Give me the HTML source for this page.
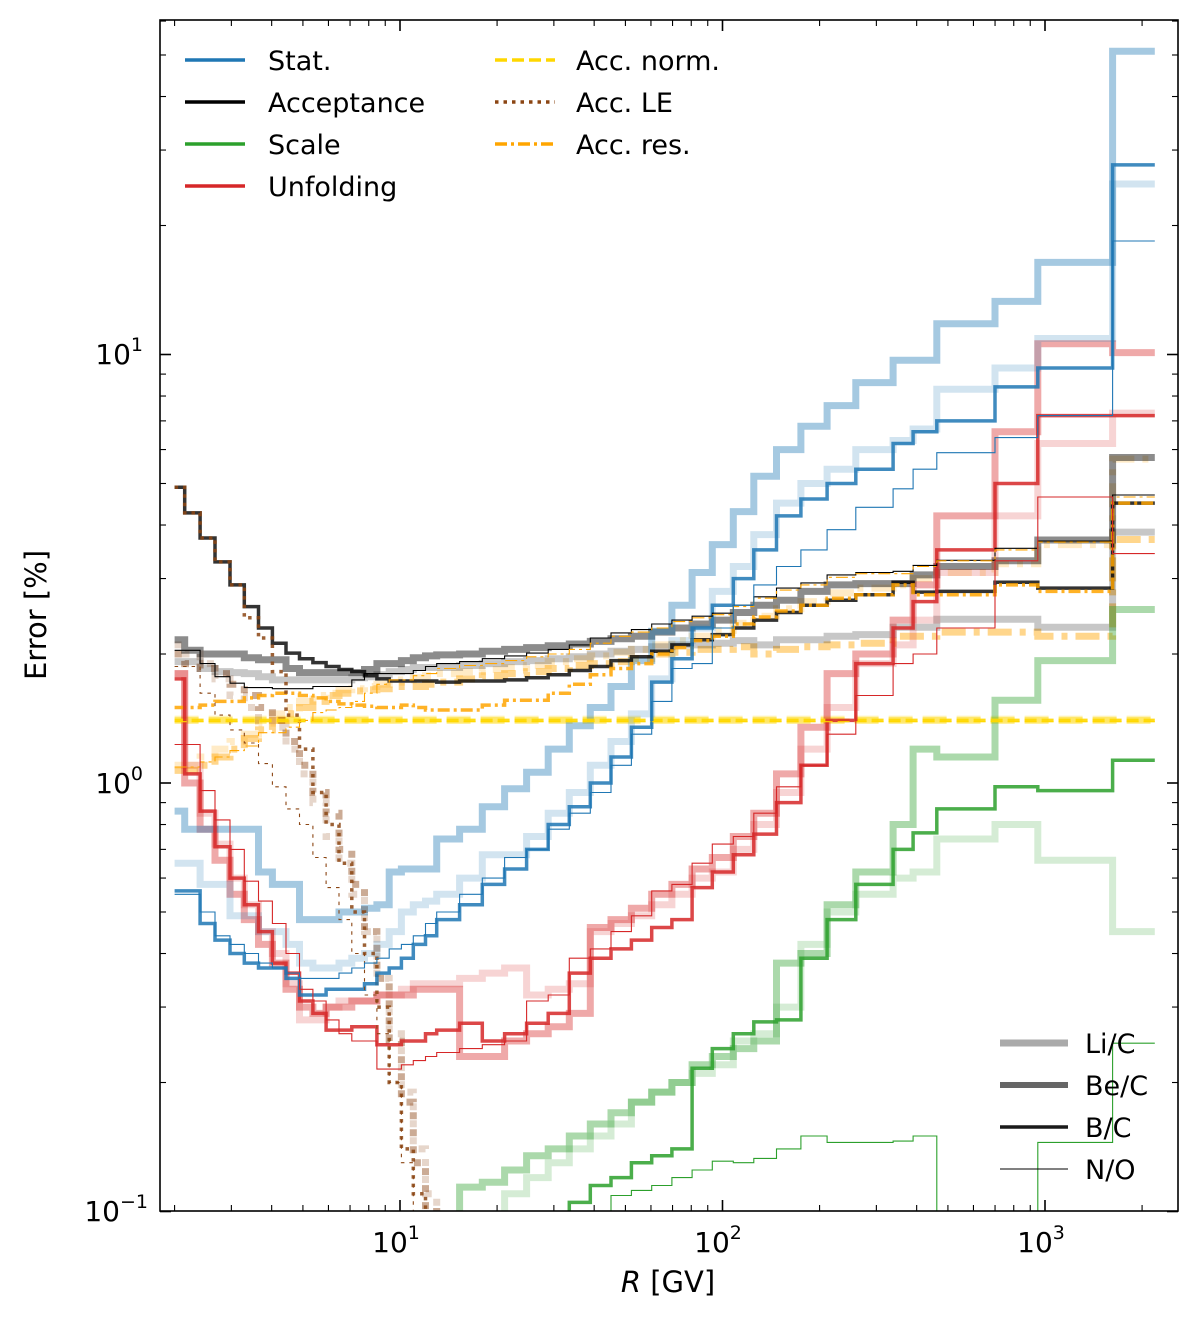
<!DOCTYPE html>
<html>
<head>
<meta charset="utf-8">
<style>
html,body{margin:0;padding:0;background:#fff;}
svg{display:block;font-family:"DejaVu Sans","Liberation Sans",sans-serif;}
</style>
</head>
<body>
<svg id="chart" xmlns="http://www.w3.org/2000/svg" width="1200" height="1324" viewBox="0 0 1200 1324">
  <defs>
    <clipPath id="plotclip"><rect x="160" y="20" width="1018" height="1191"/></clipPath>
  </defs>
  <rect x="0" y="0" width="1200" height="1324" fill="#fff"/>
  <g id="series" clip-path="url(#plotclip)"></g>
  <g id="ticks"></g>
  <rect x="160" y="20" width="1018" height="1191" fill="none" stroke="#000" stroke-width="1.6"/>

  <g font-size="28" text-anchor="middle">
    <text x="396" y="1252">10<tspan dy="-13" font-size="19">1</tspan></text>
    <text x="718" y="1252">10<tspan dy="-13" font-size="19">2</tspan></text>
    <text x="1041" y="1252">10<tspan dy="-13" font-size="19">3</tspan></text>
  </g>
  <g font-size="28" text-anchor="end">
    <text x="143" y="364">10<tspan dy="-13" font-size="19">1</tspan></text>
    <text x="143" y="793">10<tspan dy="-13" font-size="19">0</tspan></text>
    <text x="148" y="1221">10<tspan dy="-13" font-size="19">−1</tspan></text>
  </g>
  <text x="668" y="1292" font-size="29" text-anchor="middle"><tspan font-style="italic">R</tspan> [GV]</text>
  <text x="0" y="0" font-size="29" text-anchor="middle" transform="translate(46,615) rotate(-90)">Error [%]</text>

  <g font-size="27">
    <g><line x1="185" y1="60" x2="245" y2="60" stroke="#1f77b4" stroke-width="3.5"/><text x="268" y="70">Stat.</text></g>
    <g><line x1="185" y1="102" x2="245" y2="102" stroke="#000" stroke-width="3.5"/><text x="268" y="112">Acceptance</text></g>
    <g><line x1="185" y1="144" x2="245" y2="144" stroke="#2ca02c" stroke-width="3.5"/><text x="268" y="154">Scale</text></g>
    <g><line x1="185" y1="186" x2="245" y2="186" stroke="#d62728" stroke-width="3.5"/><text x="268" y="196">Unfolding</text></g>
    <g><line x1="495" y1="60" x2="555" y2="60" stroke="#FFD700" stroke-width="3.5" stroke-dasharray="12,5"/><text x="576" y="70">Acc. norm.</text></g>
    <g><line x1="495" y1="102" x2="555" y2="102" stroke="#8B4513" stroke-width="3.5" stroke-dasharray="3.5,5"/><text x="576" y="112">Acc. LE</text></g>
    <g><line x1="495" y1="144" x2="555" y2="144" stroke="#FFA500" stroke-width="3.5" stroke-dasharray="12,4,3,4"/><text x="576" y="154">Acc. res.</text></g>
  </g>
  <g font-size="27">
    <g><line x1="1000" y1="1043" x2="1068" y2="1043" stroke="#aaa" stroke-width="7"/><text x="1085" y="1053">Li/C</text></g>
    <g><line x1="1000" y1="1085" x2="1068" y2="1085" stroke="#666" stroke-width="6"/><text x="1085" y="1095">Be/C</text></g>
    <g><line x1="1000" y1="1127" x2="1068" y2="1127" stroke="#1a1a1a" stroke-width="3.5"/><text x="1085" y="1137">B/C</text></g>
    <g><line x1="1000" y1="1169" x2="1068" y2="1169" stroke="#000" stroke-width="1.1"/><text x="1085" y="1179">N/O</text></g>
  </g>
</svg>
<script>
// Rigidity bin edges (GV)
const edges = [2.0,2.15,2.4,2.67,2.97,3.29,3.64,4.02,4.43,4.88,5.37,5.9,6.47,7.09,7.76,8.48,9.26,10.1,11.0,12.0,13.0,15.3,18.0,21.1,24.7,28.8,33.5,38.9,45.1,52.2,60.3,69.7,80.5,93,108,125,147,175,211,259,338,390,462,700,950,1620,2190];
const xTickMajors = [10,100,1000];
const yTickMajors = [0.1,1,10];

// Statistical errors (%)
const statLiC = [0.86,0.78,0.78,0.78,0.78,0.78,0.62,0.58,0.58,0.48,0.48,0.48,0.5,0.5,0.51,0.52,0.62,0.63,0.63,0.63,0.74,0.78,0.88,0.97,1.06,1.2,1.36,1.5,1.68,1.93,2.26,2.6,3.1,3.6,4.3,5.2,6.0,6.8,7.6,8.6,9.7,9.7,11.8,13.3,16.4,51];
const statBeC = [0.65,0.65,0.58,0.58,0.49,0.49,0.45,0.45,0.42,0.38,0.37,0.37,0.38,0.39,0.4,0.42,0.45,0.5,0.52,0.53,0.55,0.6,0.68,0.68,0.75,0.85,0.95,1.1,1.25,1.45,1.75,2.15,2.3,2.8,3.2,3.8,4.5,5.0,5.4,6.0,6.3,6.7,8.3,9.3,10.9,25];
const statBC  = [0.56,0.56,0.47,0.43,0.4,0.38,0.37,0.37,0.35,0.32,0.32,0.33,0.33,0.33,0.34,0.36,0.37,0.39,0.42,0.44,0.48,0.52,0.58,0.63,0.7,0.8,0.88,1.0,1.15,1.35,1.72,1.95,2.3,2.6,3.0,3.5,4.2,4.6,5.0,5.4,6.2,6.6,7.0,8.4,9.3,27.7];
const statNO  = [0.55,0.55,0.5,0.44,0.42,0.4,0.38,0.37,0.36,0.35,0.35,0.35,0.36,0.37,0.38,0.39,0.41,0.42,0.44,0.47,0.5,0.55,0.6,0.67,0.7,0.78,0.85,0.95,1.1,1.3,1.55,1.85,1.9,2.3,2.6,2.9,3.2,3.5,3.9,4.4,4.86,5.4,5.9,6.4,7.2,18.4];

// Unfolding errors (%)
const unfLiC = [1.8,1.0,0.78,0.66,0.55,0.48,0.42,0.38,0.33,0.3,0.29,0.3,0.3,0.31,0.31,0.32,0.32,0.32,0.33,0.33,0.33,0.23,0.23,0.25,0.26,0.27,0.29,0.46,0.48,0.51,0.55,0.58,0.63,0.67,0.75,0.85,1.05,1.35,1.8,2.0,2.4,2.9,4.2,6.6,10.6,10.1];
const unfBeC = [1.8,1.1,0.85,0.72,0.6,0.52,0.45,0.4,0.34,0.28,0.28,0.3,0.31,0.31,0.31,0.32,0.32,0.33,0.34,0.34,0.34,0.35,0.36,0.37,0.32,0.33,0.34,0.45,0.47,0.49,0.52,0.55,0.6,0.62,0.7,0.8,0.95,1.2,1.5,1.9,2.1,2.4,3.1,4.2,6.2,7.3];
const unfBC  = [1.75,1.05,0.86,0.71,0.6,0.52,0.45,0.38,0.36,0.31,0.29,0.265,0.265,0.27,0.27,0.245,0.245,0.25,0.25,0.26,0.265,0.275,0.25,0.26,0.275,0.29,0.36,0.39,0.41,0.43,0.46,0.48,0.57,0.62,0.68,0.76,0.9,1.1,1.4,1.9,2.3,2.65,3.5,5.0,7.2,7.2];
const unfNO  = [1.23,1.23,0.96,0.82,0.7,0.59,0.53,0.47,0.4,0.33,0.31,0.28,0.26,0.25,0.25,0.215,0.215,0.22,0.225,0.23,0.235,0.24,0.245,0.25,0.31,0.32,0.39,0.41,0.45,0.49,0.56,0.58,0.65,0.72,0.75,0.85,0.98,1.1,1.3,1.6,1.9,2.0,2.3,3.3,4.65,3.43];

// Scale errors (%)
const scaleLiC = [0.05,0.05,0.05,0.05,0.05,0.05,0.05,0.05,0.05,0.05,0.05,0.05,0.05,0.05,0.05,0.05,0.05,0.05,0.05,0.05,0.05,0.114,0.117,0.125,0.135,0.14,0.15,0.16,0.17,0.18,0.19,0.2,0.22,0.23,0.24,0.25,0.38,0.4,0.52,0.62,0.8,1.2,1.15,1.56,1.93,2.54];
const scaleBeC = [0.05,0.05,0.05,0.05,0.05,0.05,0.05,0.05,0.05,0.05,0.05,0.05,0.05,0.05,0.05,0.05,0.05,0.05,0.05,0.05,0.05,0.05,0.05,0.11,0.12,0.13,0.14,0.15,0.16,0.18,0.19,0.2,0.21,0.22,0.25,0.26,0.3,0.42,0.5,0.55,0.6,0.62,0.74,0.8,0.66,0.45];
const scaleBC  = [0.05,0.05,0.05,0.05,0.05,0.05,0.05,0.05,0.05,0.05,0.05,0.05,0.05,0.05,0.05,0.05,0.05,0.05,0.05,0.05,0.05,0.05,0.05,0.05,0.05,0.05,0.105,0.115,0.12,0.13,0.135,0.14,0.216,0.24,0.26,0.277,0.28,0.39,0.48,0.58,0.7,0.765,0.87,0.98,0.96,1.13];
const scaleNO  = [0.05,0.05,0.05,0.05,0.05,0.05,0.05,0.05,0.05,0.05,0.05,0.05,0.05,0.05,0.05,0.05,0.05,0.05,0.05,0.05,0.05,0.05,0.05,0.05,0.05,0.05,0.05,0.05,0.109,0.112,0.115,0.12,0.125,0.131,0.13,0.133,0.14,0.15,0.145,0.145,0.146,0.15,0.05,0.05,0.145,0.247];

// Acceptance errors (%)
const accLiC = [1.92,1.92,1.85,1.82,1.81,1.8,1.77,1.74,1.74,1.74,1.74,1.74,1.74,1.76,1.77,1.79,1.82,1.84,1.86,1.86,1.86,1.88,1.9,1.92,1.93,1.95,1.97,2.0,2.03,2.05,2.08,2.1,2.1,2.12,2.15,2.1,2.16,2.16,2.2,2.22,2.31,2.31,2.41,2.41,2.31,3.85];
const accBeC = [2.16,2.04,2.0,2.0,2.0,1.96,1.94,1.94,1.85,1.81,1.81,1.81,1.81,1.81,1.84,1.9,1.9,1.93,1.96,1.98,1.99,2.0,2.03,2.05,2.07,2.09,2.11,2.14,2.17,2.2,2.25,2.3,2.35,2.4,2.5,2.6,2.67,2.8,2.9,2.92,2.92,3.06,3.2,3.3,3.69,5.75];
const accBC  = [4.9,4.27,3.73,3.28,2.9,2.58,2.3,2.12,2.01,1.95,1.91,1.87,1.84,1.82,1.78,1.75,1.73,1.73,1.73,1.73,1.72,1.73,1.73,1.74,1.76,1.79,1.83,1.87,1.93,1.97,2.03,2.1,2.16,2.22,2.3,2.4,2.5,2.6,2.67,2.75,2.94,2.79,2.8,2.94,2.85,4.5];
const accNO  = [2.04,2.04,1.9,1.77,1.71,1.67,1.67,1.66,1.66,1.66,1.68,1.68,1.68,1.74,1.8,1.8,1.8,1.8,1.83,1.87,1.9,1.92,1.95,1.98,2.01,2.05,2.1,2.18,2.24,2.28,2.35,2.4,2.45,2.49,2.6,2.72,2.85,2.93,3.06,3.1,3.12,3.22,3.31,3.53,3.67,4.7];

// Acceptance normalisation errors (%)
const normLiC = [1.4,1.4,1.4,1.4,1.4,1.4,1.4,1.4,1.4,1.4,1.4,1.4,1.4,1.4,1.4,1.4,1.4,1.4,1.4,1.4,1.4,1.4,1.4,1.4,1.4,1.4,1.4,1.4,1.4,1.4,1.4,1.4,1.4,1.4,1.4,1.4,1.4,1.4,1.4,1.4,1.4,1.4,1.4,1.4,1.4,1.4];
const normBeC = [1.41,1.41,1.41,1.41,1.41,1.41,1.41,1.41,1.41,1.41,1.41,1.41,1.41,1.41,1.41,1.41,1.41,1.41,1.41,1.41,1.41,1.41,1.41,1.41,1.41,1.41,1.41,1.41,1.41,1.41,1.41,1.41,1.41,1.41,1.41,1.41,1.41,1.41,1.41,1.41,1.41,1.41,1.41,1.41,1.41,1.41];
const normBC  = [1.4,1.4,1.4,1.4,1.4,1.4,1.4,1.4,1.4,1.4,1.4,1.4,1.4,1.4,1.4,1.4,1.4,1.4,1.4,1.4,1.4,1.4,1.4,1.4,1.4,1.4,1.4,1.4,1.4,1.4,1.4,1.4,1.4,1.4,1.4,1.4,1.4,1.4,1.4,1.4,1.4,1.4,1.4,1.4,1.4,1.4];
const normNO  = [1.39,1.39,1.39,1.39,1.39,1.39,1.39,1.39,1.39,1.39,1.39,1.39,1.39,1.39,1.39,1.39,1.39,1.39,1.39,1.39,1.39,1.39,1.39,1.39,1.39,1.39,1.39,1.39,1.39,1.39,1.39,1.39,1.39,1.39,1.39,1.39,1.39,1.39,1.39,1.39,1.39,1.39,1.39,1.39,1.39,1.39];

// Acceptance low-energy errors (%)
const leLiC = [2.0,1.9,1.85,1.8,1.7,1.6,1.5,1.4,1.25,1.1,0.95,0.85,0.7,0.58,0.45,0.35,0.25,0.18,0.13,0.1,0.05,0.05,0.05,0.05,0.05,0.05,0.05,0.05,0.05,0.05,0.05,0.05,0.05,0.05,0.05,0.05,0.05,0.05,0.05,0.05,0.05,0.05,0.05,0.05,0.05,0.05];
const leBeC = [2.1,2.0,1.9,1.75,1.6,1.5,1.4,1.35,1.2,1.05,0.9,0.75,0.65,0.55,0.45,0.35,0.26,0.19,0.14,0.11,0.05,0.05,0.05,0.05,0.05,0.05,0.05,0.05,0.05,0.05,0.05,0.05,0.05,0.05,0.05,0.05,0.05,0.05,0.05,0.05,0.05,0.05,0.05,0.05,0.05,0.05];
const leBC  = [4.9,4.27,3.73,3.28,2.9,2.43,2.18,1.82,1.44,1.2,0.95,0.8,0.65,0.5,0.4,0.3,0.2,0.14,0.11,0.08,0.05,0.05,0.05,0.05,0.05,0.05,0.05,0.05,0.05,0.05,0.05,0.05,0.05,0.05,0.05,0.05,0.05,0.05,0.05,0.05,0.05,0.05,0.05,0.05,0.05,0.05];
const leNO  = [1.87,1.87,1.62,1.44,1.33,1.24,1.11,0.98,0.87,0.8,0.67,0.57,0.48,0.4,0.32,0.26,0.2,0.13,0.09,0.05,0.05,0.05,0.05,0.05,0.05,0.05,0.05,0.05,0.05,0.05,0.05,0.05,0.05,0.05,0.05,0.05,0.05,0.05,0.05,0.05,0.05,0.05,0.05,0.05,0.05,0.05];

// Acceptance residual errors (%)
const resLiC = [1.07,1.07,1.1,1.15,1.2,1.27,1.33,1.4,1.45,1.5,1.55,1.6,1.62,1.64,1.65,1.66,1.68,1.68,1.68,1.7,1.72,1.75,1.78,1.8,1.82,1.85,1.88,1.9,1.92,1.95,2.0,2.02,2.05,2.05,2.08,2.0,2.05,2.08,2.1,2.12,2.2,2.2,2.25,2.25,2.2,3.7];
const resBeC = [1.1,1.1,1.15,1.2,1.25,1.3,1.38,1.45,1.5,1.55,1.6,1.62,1.65,1.66,1.68,1.7,1.72,1.74,1.76,1.78,1.8,1.82,1.84,1.86,1.88,1.92,1.95,1.98,2.02,2.05,2.1,2.15,2.2,2.27,2.36,2.45,2.55,2.65,2.78,2.85,2.9,3.0,3.1,3.25,3.6,5.7];
const resBC  = [1.5,1.5,1.52,1.55,1.55,1.58,1.6,1.62,1.62,1.6,1.58,1.55,1.53,1.52,1.51,1.5,1.5,1.52,1.5,1.48,1.48,1.48,1.52,1.56,1.56,1.62,1.7,1.79,1.85,1.9,2.0,2.07,2.15,2.2,2.35,2.44,2.52,2.6,2.7,2.75,2.9,2.75,2.75,2.9,2.8,4.5];
const resNO  = [1.09,1.09,1.12,1.15,1.19,1.22,1.31,1.31,1.35,1.4,1.46,1.48,1.5,1.55,1.62,1.7,1.74,1.74,1.78,1.8,1.85,1.88,1.9,1.93,1.97,2.0,2.05,2.12,2.2,2.25,2.3,2.38,2.43,2.47,2.58,2.7,2.82,2.9,3.02,3.08,3.08,3.2,3.3,3.5,3.65,4.65];

// Axis functions (log-log)
function xs(R){ return 400 + 322.5*Math.log10(R/10); }
function ys(v){ return 783 - 428.5*Math.log10(v); }

const NS = 'http://www.w3.org/2000/svg';
const DASH = {solid:null, dashed:'12,5', dotted:'3.5,5', dashdot:'12,4,3,4'};

function stepPath(vals){
  let d = '';
  for (let i = 0; i < vals.length; i++){
    const x0 = xs(edges[i]), x1 = xs(edges[i+1]);
    const y = ys(Math.max(vals[i], 0.03));
    if (i === 0) d += 'M' + x0.toFixed(1) + ',' + y.toFixed(1);
    else d += 'V' + y.toFixed(1);
    d += 'H' + x1.toFixed(1);
  }
  return d;
}

const seriesLayer = document.getElementById('series');
function drawSeries(vals, name, color, width, opacity, dash){
  const p = document.createElementNS(NS, 'path');
  p.setAttribute('d', stepPath(vals));
  p.setAttribute('fill', 'none');
  p.setAttribute('stroke', color);
  p.setAttribute('stroke-width', width);
  p.setAttribute('stroke-opacity', opacity);
  p.setAttribute('stroke-linejoin', 'miter');
  if (DASH[dash]) {
    const scale = width > 3 ? width/3.5 : 1;
    p.setAttribute('stroke-dasharray', DASH[dash].split(',').map(v => (parseFloat(v)*scale).toFixed(1)).join(','));
  }
  
  
  seriesLayer.appendChild(p);
}

// pale (Be/C-like) first, then medium, then full, then thin
const W_THICK = 7, W_MED = 3.5, W_THIN = 1.1;
drawSeries(normBeC, 'acc-norm-be-c', '#FFD700', W_THICK, 0.25, 'dashed');
drawSeries(normLiC, 'acc-norm-li-c', '#FFD700', W_THICK, 0.45, 'dashed');
drawSeries(resBeC, 'acc-res-be-c', '#FFA500', W_THICK, 0.22, 'dashdot');
drawSeries(resLiC, 'acc-res-li-c', '#FFA500', W_THICK, 0.45, 'dashdot');
drawSeries(leBeC, 'acc-le-be-c', '#8B4513', W_THICK, 0.22, 'dotted');
drawSeries(leLiC, 'acc-le-li-c', '#8B4513', W_THICK, 0.45, 'dotted');
drawSeries(accLiC, 'acceptance-li-c', '#000', W_THICK, 0.22, 'solid');
drawSeries(accBeC, 'acceptance-be-c', '#000', W_THICK, 0.45, 'solid');
drawSeries(scaleBeC, 'scale-be-c', '#2ca02c', W_THICK, 0.2, 'solid');
drawSeries(scaleLiC, 'scale-li-c', '#2ca02c', W_THICK, 0.4, 'solid');
drawSeries(unfBeC, 'unfolding-be-c', '#d62728', W_THICK, 0.2, 'solid');
drawSeries(unfLiC, 'unfolding-li-c', '#d62728', W_THICK, 0.4, 'solid');
drawSeries(statBeC, 'stat-be-c', '#1f77b4', W_THICK, 0.2, 'solid');
drawSeries(statLiC, 'stat-li-c', '#1f77b4', W_THICK, 0.4, 'solid');
drawSeries(accBC, 'acceptance-b-c', '#000', W_MED, 0.8, 'solid');
drawSeries(resBC, 'acc-res-b-c', '#FFA500', W_MED, 0.85, 'dashdot');
drawSeries(leBC, 'acc-le-b-c', '#8B4513', W_MED, 0.85, 'dotted');
drawSeries(normBC, 'acc-norm-b-c', '#FFD700', W_MED, 0.9, 'dashed');
drawSeries(scaleBC, 'scale-b-c', '#2ca02c', W_MED, 0.85, 'solid');
drawSeries(unfBC, 'unfolding-b-c', '#d62728', W_MED, 0.85, 'solid');
drawSeries(statBC, 'stat-b-c', '#1f77b4', W_MED, 0.85, 'solid');
drawSeries(accNO, 'acceptance-n-o', '#000', W_THIN, 1, 'solid');
drawSeries(resNO, 'acc-res-n-o', '#FFA500', W_THIN, 1, 'dashdot');
drawSeries(leNO, 'acc-le-n-o', '#8B4513', W_THIN, 1, 'dotted');
drawSeries(normNO, 'acc-norm-n-o', '#FFD700', W_THIN, 1, 'dashed');
drawSeries(scaleNO, 'scale-n-o', '#2ca02c', W_THIN, 1, 'solid');
drawSeries(unfNO, 'unfolding-n-o', '#d62728', W_THIN, 1, 'solid');
drawSeries(statNO, 'stat-n-o', '#1f77b4', W_THIN, 1, 'solid');

// Ticks (inward, all four sides)
const tickLayer = document.getElementById('ticks');
function tickLine(x1, y1, x2, y2, w, name){
  const l = document.createElementNS(NS, 'line');
  l.setAttribute('x1', x1); l.setAttribute('y1', y1);
  l.setAttribute('x2', x2); l.setAttribute('y2', y2);
  l.setAttribute('stroke', '#000');
  l.setAttribute('stroke-width', w);
  
  
  tickLayer.appendChild(l);
}
const X0 = 160, X1 = 1178, Y0 = 20, Y1 = 1211;
[1,10,100,1000].forEach(dec => {
  for (let m = 1; m <= 9; m++){
    const R = m*dec;
    const x = xs(R);
    if (x <= X0+1 || x >= X1-1) continue;
    const major = xTickMajors.includes(R);
    const L = major ? 11 : 6;
    tickLine(x, Y1, x, Y1-L, major ? 1.6 : 1.1, major ? 'x-major-tick' : 'x-minor-tick');
    tickLine(x, Y0, x, Y0+L, major ? 1.6 : 1.1, major ? 'x-major-tick-top' : 'x-minor-tick-top');
  }
});
[0.1,1,10].forEach(dec => {
  for (let m = 1; m <= 9; m++){
    const v = m*dec;
    const y = ys(v);
    if (y <= Y0+1 || y >= Y1-1) { if (!(yTickMajors.includes(v))) continue; }
    const major = yTickMajors.includes(v);
    const L = major ? 11 : 6;
    tickLine(X0, y, X0+L, y, major ? 1.6 : 1.1, major ? 'y-major-tick' : 'y-minor-tick');
    tickLine(X1, y, X1-L, y, major ? 1.6 : 1.1, major ? 'y-major-tick-right' : 'y-minor-tick-right');
  }
});
</script>
</body>
</html>
